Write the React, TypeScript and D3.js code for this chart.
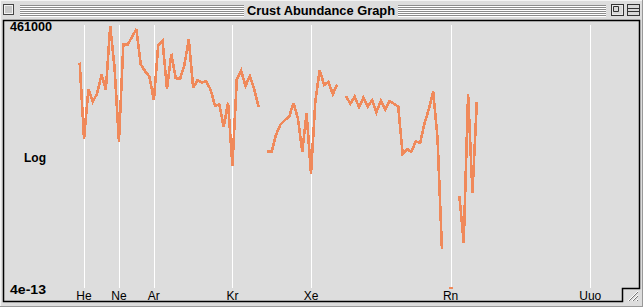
import React from "react";
import * as d3 from "d3";

// Crustal abundance (mg/kg) for Z = 1..92; null = no value
const abundance: (number | null)[] = [
  1400, 0.008, 20, 2.8, 10, 200, 19, 461000, 585, 0.005,
  23600, 23300, 82300, 282000, 1050, 350, 145, 3.5, 20900, 41500,
  22, 5650, 120, 102, 950, 56300, 25, 84, 60, 70,
  19, 1.5, 1.8, 0.05, 2.4, 0.0001, 90, 370, 33, 165,
  20, 1.2, null, 0.001, 0.001, 0.015, 0.075, 0.15, 0.25, 2.3,
  0.2, 0.001, 0.45, 0.00003, 3, 425, 39, 66.5, 9.2, 41.5,
  null, 7.05, 2.0, 6.2, 1.2, 5.2, 1.3, 3.5, 0.52, 3.2,
  0.8, 3.0, 2.0, 1.25, 0.0007, 0.0015, 0.001, 0.005, 0.004, 0.085,
  0.85, 14, 0.0085, 2e-10, null, 4e-13, null, 9e-7, 5.5e-10, 9.6,
  1.4e-6, 2.7,
];

const nobleNumbers = [2, 10, 18, 36, 54, 86, 118];
const nobleLabels = ["He", "Ne", "Ar", "Kr", "Xe", "Rn", "Uuo"];

const yMaxLabel = "461000";
const yMinLabel = "4e-13";
const yMidLabel = "Log";
const title = "Crust Abundance Graph";

const W = 643;
const H = 307;
const BG = "#dddddd";
const LINE = "#f0895a";

export default function App() {
  const x = d3.scaleLinear().domain([0, 118]).range([75.3, 590.3]);
  const y = d3.scaleLog().domain([4e-13, 461000]).range([288, 26]);

  const pts: [number, number | null][] = abundance.map((v, i) => [i + 1, v]);
  const line = d3
    .line<[number, number | null]>()
    .defined((d) => d[1] != null)
    .x((d) => x(d[0]))
    .y((d) => y(d[1] as number));

  const isolated = pts.filter(
    (d, i) =>
      d[1] != null &&
      (i === 0 || pts[i - 1][1] == null) &&
      (i === pts.length - 1 || pts[i + 1][1] == null)
  );

  const stripeYs = [5, 7, 9, 11, 13, 15];
  const font = "'Liberation Sans', Arial, sans-serif";

  return (
    <svg
      width={W}
      height={H}
      style={{ position: "fixed", left: 0, top: 0, display: "block" }}
    >
      {/* window background */}
      <rect x={0} y={0} width={W} height={H} fill={BG} />
      <line x1={0} y1={0.5} x2={W} y2={0.5} stroke="#f4f4f4" />
      <line x1={0.5} y1={0} x2={0.5} y2={H} stroke="#f4f4f4" />
      <line x1={W - 0.5} y1={0} x2={W - 0.5} y2={H} stroke="#999" />
      <line x1={0} y1={H - 0.5} x2={W} y2={H - 0.5} stroke="#999" />

      {/* title bar stripes */}
      {stripeYs.map((sy) => (
        <g key={sy}>
          <line x1={20} x2={244} y1={sy + 0.5} y2={sy + 0.5} stroke="#8c8c8c" />
          <line x1={20} x2={244} y1={sy + 1.5} y2={sy + 1.5} stroke="#ffffff" />
          <line x1={398} x2={606} y1={sy + 0.5} y2={sy + 0.5} stroke="#8c8c8c" />
          <line x1={398} x2={606} y1={sy + 1.5} y2={sy + 1.5} stroke="#ffffff" />
        </g>
      ))}
      <text
        x={321}
        y={15}
        textAnchor="middle"
        fontFamily={font}
        fontWeight="bold"
        fontSize={13}
        textLength={148}
        lengthAdjust="spacingAndGlyphs"
        fill="#000"
      >
        {title}
      </text>

      {/* close box */}
      <rect x={3.5} y={4.5} width={10} height={10} fill="#c8c8c8" stroke="#444" />
      <rect x={4.5} y={5.5} width={8} height={8} fill="none" stroke="#f2f2f2" />
      {/* zoom box */}
      <rect x={611.5} y={4.5} width={12} height={11} fill="#d8d8d8" stroke="#333" />
      <path d="M613.5,6.5 H618.5 V11.5 H613.5 Z" fill="none" stroke="#333" />
      <rect x={612.5} y={5.5} width={10} height={9} fill="none" stroke="#f5f5f5" strokeOpacity={0.6} />
      {/* collapse box */}
      <rect x={627.5} y={4.5} width={12} height={11} fill="#d8d8d8" stroke="#333" />
      <line x1={628} x2={639} y1={8.5} y2={8.5} stroke="#333" />
      <line x1={628} x2={639} y1={11.5} y2={11.5} stroke="#333" />

      {/* content frame */}
      <rect x={4} y={21} width={635.5} height={280.5} fill={BG} />
      <path
        d="M3.5,20.5 H639.5 V288.5 H622.5 V301.5 H3.5 Z"
        fill="none"
        stroke="#000"
        strokeWidth={1.5}
      />
      {/* grow box */}
      {[0, 4, 8].map((o) => (
        <g key={o}>
          <line x1={628 + o} y1={301} x2={638} y2={291 + o} stroke="#ffffff" />
          <line x1={629 + o} y1={301} x2={638} y2={292 + o} stroke="#777" />
        </g>
      ))}

      {/* noble gas gridlines */}
      {nobleNumbers.map((z) => (
        <line
          key={z}
          x1={Math.round(x(z)) + 0.5}
          x2={Math.round(x(z)) + 0.5}
          y1={25}
          y2={288}
          stroke="#ffffff"
          strokeWidth={1}
        />
      ))}

      {/* data line */}
      <path
        d={line(pts) || ""}
        fill="none"
        stroke={LINE}
        strokeWidth={2.6}
        strokeLinejoin="miter"
        strokeMiterlimit={3}
        shapeRendering="crispEdges"
      />
      {isolated.map((d) => (
        <line
          key={d[0]}
          x1={x(d[0]) - 2}
          x2={x(d[0]) + 2}
          y1={y(d[1] as number)}
          y2={y(d[1] as number)}
          stroke={LINE}
          strokeWidth={2}
          shapeRendering="crispEdges"
        />
      ))}

      {/* axis labels */}
      <text x={10} y={31} fontFamily={font} fontWeight="bold" fontSize={12} textLength={42} lengthAdjust="spacingAndGlyphs">
        {yMaxLabel}
      </text>
      <text x={24} y={162} fontFamily={font} fontWeight="bold" fontSize={12}>
        {yMidLabel}
      </text>
      <text x={10} y={294} fontFamily={font} fontWeight="bold" fontSize={12} textLength={36} lengthAdjust="spacingAndGlyphs">
        {yMinLabel}
      </text>
      {nobleNumbers.map((z, i) => (
        <text
          key={z}
          x={x(z)}
          y={299.5}
          textAnchor="middle"
          fontFamily={font}
          fontSize={12}
        >
          {nobleLabels[i]}
        </text>
      ))}
    </svg>
  );
}
